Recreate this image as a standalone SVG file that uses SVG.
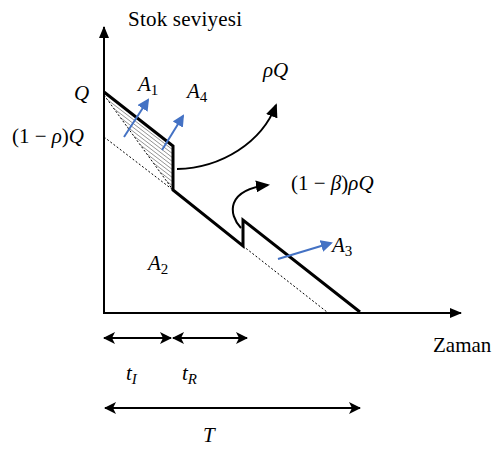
<svg xmlns="http://www.w3.org/2000/svg" width="493" height="450" viewBox="0 0 493 450">
<style>
.ax{stroke:#000;stroke-width:2;fill:none}
.main{stroke:#000;stroke-width:3;fill:none;stroke-linejoin:miter}
.dot{stroke:#000;stroke-width:1;stroke-dasharray:2 2;fill:none}
.hatch{stroke:#777;stroke-width:0.8}
.blue{stroke:#4472C4;stroke-width:2;fill:none}
.curve{stroke:#000;stroke-width:2;fill:none}
.dim{stroke:#000;stroke-width:2;fill:none}
.lbl{font-family:"Liberation Serif","Times New Roman",serif;font-size:21px;fill:#000}
.m{font-family:"Liberation Serif","Times New Roman",serif;font-size:21px;font-style:italic;fill:#000}
.up{font-style:normal}
.sub{font-size:15px}
</style>
<defs>
<marker id="axh" viewBox="0 0 12 10" refX="11" refY="5" markerWidth="12" markerHeight="10" orient="auto" markerUnits="userSpaceOnUse"><path d="M0,0 L12,5 L0,10 z" fill="#000"/></marker>
<marker id="dh" viewBox="0 0 12 12" refX="11" refY="6" markerWidth="12" markerHeight="12" orient="auto-start-reverse" markerUnits="userSpaceOnUse"><path d="M0,0 L12,6 L0,12 L3,6 z" fill="#000"/></marker>
<marker id="ch" viewBox="0 0 14 12" refX="12" refY="6" markerWidth="14" markerHeight="12" orient="auto" markerUnits="userSpaceOnUse"><path d="M0,0 L14,6 L0,12 z" fill="#000"/></marker>
<marker id="bh" viewBox="0 0 12 12" refX="10" refY="6" markerWidth="12" markerHeight="12" orient="auto" markerUnits="userSpaceOnUse"><path d="M0,0 L12,6 L0,12 z" fill="#4472C4"/></marker>
<clipPath id="hc"><polygon points="104,93 173,146 173,190 104,95"/></clipPath>
</defs>

<g id="axes">
<line class="ax" x1="104" y1="313" x2="104" y2="27" marker-end="url(#axh)"/>
<line class="ax" x1="103" y1="313" x2="461" y2="313" marker-end="url(#axh)"/>
<text class="lbl" x="128" y="26" textLength="114">Stok seviyesi</text>
<text class="lbl" x="433" y="352">Zaman</text>
</g>

<g id="hatching" clip-path="url(#hc)">
<g class="hatch">
<line x1="100" y1="94" x2="180" y2="155.4"/>
<line x1="100" y1="98" x2="180" y2="159.4"/>
<line x1="100" y1="102" x2="180" y2="163.4"/>
<line x1="100" y1="106" x2="180" y2="167.4"/>
<line x1="100" y1="110" x2="180" y2="171.4"/>
<line x1="100" y1="114" x2="180" y2="175.4"/>
<line x1="100" y1="118" x2="180" y2="179.4"/>
<line x1="100" y1="122" x2="180" y2="183.4"/>
<line x1="100" y1="126" x2="180" y2="187.4"/>
<line x1="100" y1="130" x2="180" y2="191.4"/>
<line x1="100" y1="134" x2="180" y2="195.4"/>
</g>
</g>

<g id="connectors">
<line class="dot" x1="104" y1="95" x2="173" y2="190"/>
<line class="dot" x1="104" y1="137" x2="173" y2="190"/>
<line class="dot" x1="243" y1="246" x2="327" y2="312"/>
<polyline class="main" points="104,92 173,146 173,190 243,246 243,220 360,312"/>
<path class="curve" d="M177,169 C222,168 262,142 276,105" marker-end="url(#ch)"/>
<path class="curve" d="M241,228 C228,214 226,190 268,185" marker-end="url(#ch)"/>
<line class="blue" x1="124" y1="137" x2="148" y2="100" marker-end="url(#bh)"/>
<line class="blue" x1="162" y1="150" x2="183" y2="116" marker-end="url(#bh)"/>
<line class="blue" x1="278" y1="259" x2="331" y2="243" marker-end="url(#bh)"/>
<line class="dim" x1="104" y1="338" x2="171" y2="338" marker-start="url(#dh)" marker-end="url(#dh)"/>
<line class="dim" x1="173" y1="338" x2="247" y2="338" marker-start="url(#dh)" marker-end="url(#dh)"/>
<line class="dim" x1="105" y1="408" x2="360" y2="408" marker-start="url(#dh)" marker-end="url(#dh)"/>
</g>

<g id="labels">
<text class="m" x="74" y="100">Q</text>
<text class="m" x="84" y="143" text-anchor="end"><tspan class="up">(1 − </tspan>ρ<tspan class="up">)</tspan>Q</text>
<text class="m" x="138" y="91">A<tspan class="sub up" dy="4">1</tspan></text>
<text class="m" x="187" y="98">A<tspan class="sub up" dy="4">4</tspan></text>
<text class="m" x="263" y="77">ρQ</text>
<text class="m" x="291" y="190"><tspan class="up">(1 − </tspan>β<tspan class="up">)</tspan>ρQ</text>
<text class="m" x="148" y="270">A<tspan class="sub up" dy="4">2</tspan></text>
<text class="m" x="332" y="252">A<tspan class="sub up" dy="4">3</tspan></text>
<text class="m" x="126" y="380">t<tspan class="sub" dy="4">I</tspan></text>
<text class="m" x="182" y="380">t<tspan class="sub" dy="4">R</tspan></text>
<text class="m" x="203" y="442">T</text>
</g>
</svg>
